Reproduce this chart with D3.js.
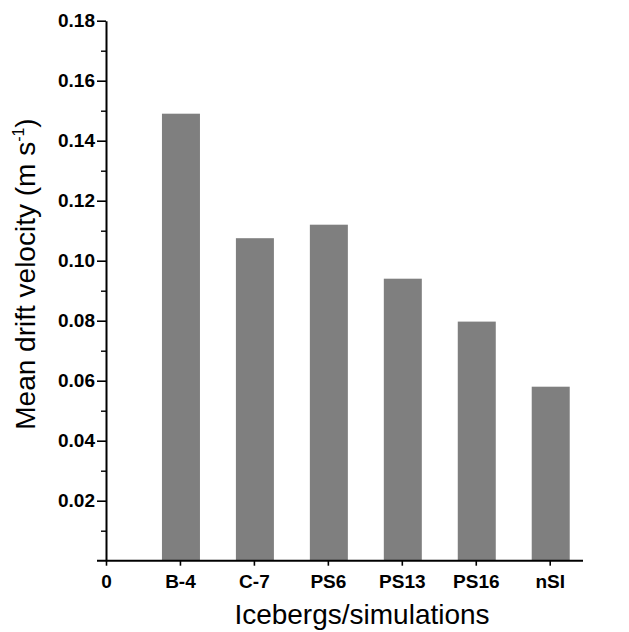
<!DOCTYPE html>
<html>
<head>
<meta charset="utf-8">
<script src="https://cdn.jsdelivr.net/npm/d3@7"></script>
<style>
  html, body { margin: 0; padding: 0; background: #fff; }
  svg { display: block; }
  text { font-family: "Liberation Sans", Arial, Helvetica, sans-serif; fill: #000; }
</style>
</head>
<body>
<svg id="chart" width="629" height="632"></svg>
<script>
// ---- data ----
const categories = ["B-4", "C-7", "PS6", "PS13", "PS16", "nSI"];
const velocities = [0.149, 0.1075, 0.112, 0.094, 0.0797, 0.058];
const yMajorTicks = [0.02, 0.04, 0.06, 0.08, 0.10, 0.12, 0.14, 0.16, 0.18];
const yMinorTicks = [0.01, 0.03, 0.05, 0.07, 0.09, 0.11, 0.13, 0.15, 0.17];
const xTickLabels = ["0"].concat(categories);
const yTitle = "Mean drift velocity (m s";
const ySup = "-1";
const xTitle = "Icebergs/simulations";

// ---- layout ----
const svg = d3.select("#chart");
const x = d3.scaleLinear().domain([0, 6.45]).range([106, 583]);
const y = d3.scaleLinear().domain([0, 0.18]).range([560.7, 20.7]);
const barW = 38;
const barColor = "#7f7f7f";

// bars
svg.append("g").selectAll("rect")
  .data(velocities)
  .join("rect")
  .attr("x", (d, i) => x(i + 1) - barW / 2 + 1)
  .attr("y", d => y(d))
  .attr("width", barW)
  .attr("height", d => y(0) - y(d))
  .attr("fill", barColor);

// y axis (major)
const yAxis = d3.axisLeft(y)
  .tickValues(yMajorTicks)
  .tickFormat(d3.format(".2f"))
  .tickSize(9)
  .tickSizeOuter(0)
  .tickPadding(2);
const gy = svg.append("g").attr("transform", `translate(${x(0)},0)`).call(yAxis);
gy.select(".domain").attr("stroke", "#000").attr("stroke-width", 2);
gy.selectAll(".tick line").attr("stroke", "#000").attr("stroke-width", 1.6);
gy.selectAll(".tick text")
  .attr("font-size", 19)
  .attr("font-weight", "bold")
  .attr("font-family", "Liberation Sans, Arial, sans-serif");

// y axis minor ticks
const yMinor = d3.axisLeft(y).tickValues(yMinorTicks).tickSize(5).tickFormat("");
const gym = svg.append("g").attr("transform", `translate(${x(0)},0)`).call(yMinor);
gym.select(".domain").remove();
gym.selectAll(".tick line").attr("stroke", "#000").attr("stroke-width", 1.4);

// x axis
const xAxis = d3.axisBottom(x)
  .tickValues(d3.range(xTickLabels.length))
  .tickFormat((d, i) => xTickLabels[i])
  .tickSize(5)
  .tickSizeOuter(0)
  .tickPadding(9);
const gx = svg.append("g").attr("transform", `translate(0,${y(0)})`).call(xAxis);
gx.select(".domain").remove();
gx.append("line")
  .attr("x1", x(0) - 9).attr("x2", x(6.45))
  .attr("y1", 0).attr("y2", 0)
  .attr("stroke", "#000").attr("stroke-width", 2);
gx.selectAll(".tick line").attr("stroke", "#000").attr("stroke-width", 1.6);
gx.selectAll(".tick text")
  .attr("font-size", 19)
  .attr("font-weight", "bold")
  .attr("font-family", "Liberation Sans, Arial, sans-serif");

// y title
const yt = svg.append("text")
  .attr("transform", "translate(35,274) rotate(-90)")
  .attr("text-anchor", "middle")
  .attr("font-size", 28);
yt.append("tspan").text(yTitle);
yt.append("tspan").attr("font-size", 16).attr("dy", -11).text(ySup);
yt.append("tspan").attr("dy", 11).text(")");

// x title
svg.append("text")
  .attr("x", 362)
  .attr("y", 624)
  .attr("text-anchor", "middle")
  .attr("font-size", 28)
  .text(xTitle);
</script>
</body>
</html>
